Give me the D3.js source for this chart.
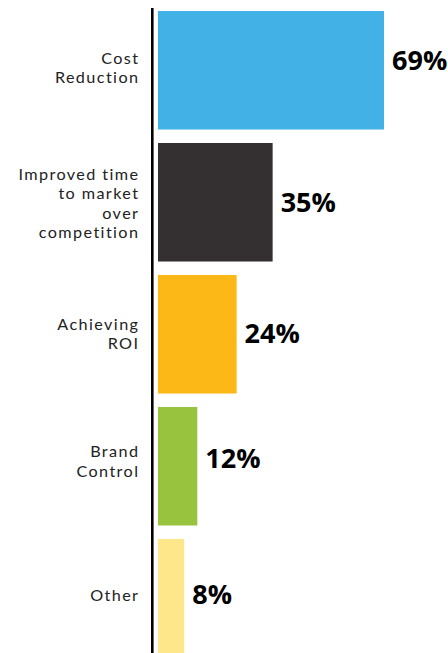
<!DOCTYPE html>
<html>
<head>
<meta charset="utf-8">
<script src="https://cdn.jsdelivr.net/npm/d3@7"></script>
<style>
  html, body { margin: 0; padding: 0; background: #ffffff; }
  svg { display: block; }
</style>
</head>
<body>
<div id="chart"></div>
<script>
// Reasons cited, share of respondents (%)
const categories = [
  ["Cost", "Reduction"],
  ["Improved time", "to market", "over", "competition"],
  ["Achieving", "ROI"],
  ["Brand", "Control"],
  ["Other"]
];
const values = [69, 35, 24, 12, 8];
const colors = ["#42B2E6", "#343031", "#FBB816", "#98C33E", "#FEE68A"];

const width = 448, height = 653;
const x0 = 158, xMaxPx = 384;

// small vertical tweaks for the text beside each bar
const catNudge = [-2.5, 1, -0.5, -5, -3];
const valueNudge = [-10, 0, -0.7, -8, -3.7];

const svg = d3.select("#chart").append("svg")
  .attr("width", width)
  .attr("height", height);

const keys = categories.map((c, i) => i);

const x = d3.scaleLinear()
  .domain([0, d3.max(values)])
  .range([x0, xMaxPx]);

const y = d3.scaleBand()
  .domain(keys)
  .range([11, 657.5])
  .paddingInner(0.102)
  .paddingOuter(0);

// bars
svg.append("g").selectAll("rect")
  .data(keys)
  .join("rect")
  .attr("x", x(0))
  .attr("y", i => y(i))
  .attr("width", i => x(values[i]) - x(0))
  .attr("height", y.bandwidth())
  .attr("fill", i => colors[i]);

// vertical baseline
svg.append("line")
  .attr("x1", 152.3).attr("x2", 152.3)
  .attr("y1", 8).attr("y2", height)
  .attr("stroke", "#000")
  .attr("stroke-width", 2.6);

// category labels, right-aligned left of the axis, one text per line
const lineH = 19.5;
const fs = 16.2;
const ls = 1.4;
const catLines = [];
keys.forEach(i => {
  const lines = categories[i];
  const cy = y(i) + y.bandwidth() / 2 + catNudge[i];
  const first = cy - (lines.length - 1) * lineH / 2 + 0.36 * fs;
  lines.forEach((ln, j) => catLines.push({ text: ln, y: first + j * lineH }));
});

svg.append("g").selectAll("text")
  .data(catLines)
  .join("text")
  .attr("text-anchor", "end")
  .attr("font-family", "Lato, 'Open Sans', sans-serif")
  .attr("font-size", fs)
  .attr("letter-spacing", ls)
  .attr("fill", "#222")
  .attr("x", 138 + ls)
  .attr("y", d => d.y)
  .text(d => d.text);

// value labels
svg.append("g").selectAll("text")
  .data(keys)
  .join("text")
  .attr("x", i => x(values[i]) + 8)
  .attr("y", i => y(i) + y.bandwidth() / 2 + valueNudge[i])
  .attr("dy", "0.36em")
  .attr("font-family", "'Open Sans', sans-serif")
  .attr("font-weight", 700)
  .attr("font-size", 27)
  .attr("fill", "#000")
  .text(i => values[i] + "%");
</script>
</body>
</html>
